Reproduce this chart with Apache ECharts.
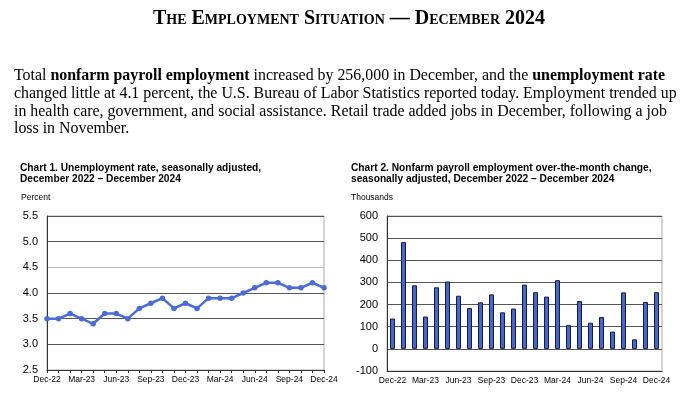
<!DOCTYPE html>
<html>
<head>
<meta charset="utf-8">
<script src="https://cdn.jsdelivr.net/npm/echarts@6/dist/echarts.min.js"></script>
<style>
  html, body { margin: 0; padding: 0; background: #fff; }
  #wrap { position: relative; width: 691px; height: 402px; overflow: hidden; }
  #chart { position: absolute; left: 0; top: 0; width: 691px; height: 402px; }
  #headline { position: absolute; left: 0; top: 6px; width: 698px; text-align: center;
    font-family: "Liberation Serif", "Times New Roman", serif; font-weight: bold; font-variant: small-caps;
    font-size: 20px; line-height: 22px; color: #000; }
  #para { position: absolute; left: 14px; top: 66px; width: 675px;
    font-family: "Liberation Serif", "Times New Roman", serif; font-size: 15.9px; line-height: 17.8px; color: #000; }
</style>
</head>
<body>
<div id="wrap">
  <div id="chart"></div>
  <div id="headline">The Employment Situation — December 2024</div>
  <div id="para">Total <b>nonfarm payroll employment</b> increased by 256,000 in December, and the <b>unemployment rate</b><br>changed little at 4.1 percent, the U.S. Bureau of Labor Statistics reported today. Employment trended up<br>in health care, government, and social assistance. Retail trade added jobs in December, following a job<br>loss in November.</div>
</div>
<script>
const months = ['Dec-22','Jan-23','Feb-23','Mar-23','Apr-23','May-23','Jun-23','Jul-23','Aug-23','Sep-23','Oct-23','Nov-23','Dec-23','Jan-24','Feb-24','Mar-24','Apr-24','May-24','Jun-24','Jul-24','Aug-24','Sep-24','Oct-24','Nov-24','Dec-24'];
const unemploymentRate = [3.5,3.5,3.6,3.5,3.4,3.6,3.6,3.5,3.7,3.8,3.9,3.7,3.8,3.7,3.9,3.9,3.9,4.0,4.1,4.2,4.2,4.1,4.1,4.2,4.1];
const payrollChange = [137,482,287,146,278,304,240,184,210,246,165,182,290,256,236,310,108,216,118,144,78,255,43,212,256];
const chart1Title = 'Chart 1. Unemployment rate, seasonally adjusted,\nDecember 2022 – December 2024';
const chart2Title = 'Chart 2. Nonfarm payroll employment over-the-month change,\nseasonally adjusted, December 2022 – December 2024';
const chart1Unit = 'Percent';
const chart2Unit = 'Thousands';

const font = '"Liberation Sans", Arial, sans-serif';
const chart = echarts.init(document.getElementById('chart'), null, {renderer: 'canvas'});
const titleStyle = {fontFamily: font, fontWeight: 'bold', fontSize: 10.2, lineHeight: 11.5, color: '#000'};
const unitStyle = {fontFamily: font, fontWeight: 'normal', fontSize: 8.5, color: '#000'};
const axisLabelY = {fontFamily: font, fontSize: 11, color: '#000', margin: 9};
const axisLabelX = {fontFamily: font, fontSize: 8.5, color: '#000', margin: 5, interval: 2};

chart.setOption({
  animation: false,
  title: [
    {text: chart1Title, left: 20, top: 162, padding: 0, textStyle: titleStyle},
    {text: chart1Unit, left: 21, top: 193, padding: 0, textStyle: unitStyle},
    {text: chart2Title, left: 351, top: 162, padding: 0, textStyle: titleStyle},
    {text: chart2Unit, left: 351, top: 193, padding: 0, textStyle: unitStyle}
  ],
  grid: [
    {left: 47, right: 367, top: 216, bottom: 32, show: true, borderColor: '#aaa', borderWidth: 1, containLabel: false},
    {left: 387, right: 29, top: 216, bottom: 31, show: true, borderColor: '#aaa', borderWidth: 1, containLabel: false}
  ],
  xAxis: [
    {type: 'category', gridIndex: 0, data: months, boundaryGap: false,
     axisLine: {lineStyle: {color: '#333', width: 1}},
     axisTick: {show: true, interval: 0, length: 3, inside: false, lineStyle: {color: '#333'}},
     axisLabel: axisLabelX, splitLine: {show: false}},
    {type: 'category', gridIndex: 1, data: months, boundaryGap: true,
     axisLine: {onZero: false, lineStyle: {color: '#333', width: 1}},
     axisTick: {show: false},
     axisLabel: axisLabelX, splitLine: {show: false}}
  ],
  yAxis: [
    {type: 'value', gridIndex: 0, min: 2.5, max: 5.5, interval: 0.5,
     axisLine: {show: true, lineStyle: {color: '#333'}}, axisTick: {show: false},
     axisLabel: Object.assign({formatter: v => v.toFixed(1)}, axisLabelY),
     splitLine: {show: true, lineStyle: {color: ['#555','#555','#555','#555','#bbb','#555','#555'], width: 1}}},
    {type: 'value', gridIndex: 1, min: -100, max: 600, interval: 100,
     axisLine: {show: true, lineStyle: {color: '#333'}}, axisTick: {show: false},
     axisLabel: axisLabelY,
     splitLine: {show: true, lineStyle: {color: '#555', width: 1}}}
  ],
  series: [
    {type: 'line', xAxisIndex: 0, yAxisIndex: 0, data: unemploymentRate,
     symbol: 'circle', symbolSize: 5.5, showSymbol: true,
     lineStyle: {color: '#4a6cd4', width: 2.5}, itemStyle: {color: '#4a6cd4'}},
    {type: 'bar', xAxisIndex: 1, yAxisIndex: 1, data: payrollChange, barWidth: 5,
     itemStyle: {color: '#4766cc', borderColor: '#141a4a', borderWidth: 1}}
  ]
});
</script>
</body>
</html>
